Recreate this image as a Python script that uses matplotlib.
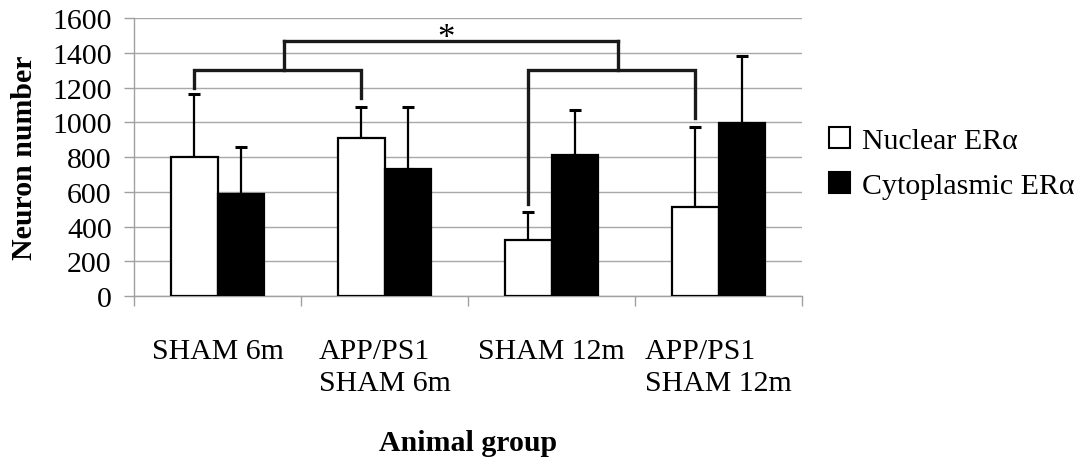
import matplotlib
matplotlib.use("Agg")
import matplotlib.pyplot as plt
import numpy as np
from matplotlib.patches import Patch

categories = ["SHAM 6m", "APP/PS1\nSHAM 6m", "SHAM 12m", "APP/PS1\nSHAM 12m"]
series_names = ["Nuclear ER\u03b1", "Cytoplasmic ER\u03b1"]
nuclear = [800, 910, 325, 510]
nuclear_err = [360, 180, 160, 465]
cyto = [590, 730, 810, 995]
cyto_err = [270, 360, 260, 385]
yticks = [0, 200, 400, 600, 800, 1000, 1200, 1400, 1600]

# brackets: (left group, right group, height, left leg bottom, right leg bottom)
bracket_pairs = [(0, 1, 1300, 1200, 1140), (2, 3, 1300, 530, 1025)]
top_bracket_height = 1465
star_height = 1385

plt.rcParams['font.family'] = ['Liberation Serif', 'DejaVu Serif']
FS = 21.5

fig = plt.figure(figsize=(10.8, 4.6), dpi=100)
ax = fig.add_axes([0.1241, 0.3543, 0.6185, 0.6044])

x = np.arange(len(categories))
w = 0.28
ax.bar(x - w/2, nuclear, w, color='white', edgecolor='black', linewidth=1.6, zorder=3)
ax.bar(x + w/2, cyto, w, color='black', edgecolor='black', linewidth=1.6, zorder=3)
ekw = dict(fmt='none', ecolor='black', elinewidth=1.6, capsize=4.5, capthick=2.2, zorder=2)
ax.errorbar(x - w/2, nuclear, yerr=[np.zeros(4), nuclear_err], **ekw)
ax.errorbar(x + w/2, cyto, yerr=[np.zeros(4), cyto_err], **ekw)

ax.set_xlim(-0.5, 3.5)
ax.set_ylim(0, 1600)
ax.set_yticks(yticks)
ax.set_yticklabels([str(v) for v in yticks], fontsize=FS)
ax.yaxis.grid(True, color='#a8a8a8', linewidth=1.0, zorder=0)
ax.set_axisbelow(True)
for s in ['top', 'right']:
    ax.spines[s].set_visible(False)
for s in ['left', 'bottom']:
    ax.spines[s].set_color('#a0a0a0')
    ax.spines[s].set_linewidth(1.0)
ax.tick_params(axis='y', length=7, color='#a0a0a0', pad=9, width=1.0)

ax.set_xticks(np.arange(-0.5, 4.0, 1.0))
ax.set_xticklabels([])
ax.tick_params(axis='x', which='major', length=7, color='#a0a0a0', width=1.0)
ax.set_xticks(x, minor=True)
ax.set_xticklabels(categories, minor=True, fontsize=FS, multialignment='left', linespacing=1.3)
ax.tick_params(axis='x', which='minor', length=0, pad=30)

ax.set_ylabel("Neuron number", fontsize=FS, fontweight='bold', labelpad=10)
ax.set_xlabel("Animal group", fontsize=FS, fontweight='bold', labelpad=24)

# significance brackets
lc = '#1a1a1a'
lw = 2.4
stems = []
for g1, g2, h, b1, b2 in bracket_pairs:
    x1 = x[g1] - w/2
    x2 = x[g2] - w/2
    ax.plot([x1, x1, x2, x2], [b1, h, h, b2], color=lc, lw=lw, solid_joinstyle='miter', zorder=4, clip_on=False)
    xs = (x1 + x2) / 2 + 0.04
    stems.append(xs)
    ax.plot([xs, xs], [h, top_bracket_height], color=lc, lw=lw, zorder=4, clip_on=False)
ax.plot([stems[0], stems[1]], [top_bracket_height, top_bracket_height], color=lc, lw=lw,
        solid_capstyle='projecting', zorder=4, clip_on=False)
ax.text((stems[0] + stems[1]) / 2 - 0.03, star_height, "*", fontsize=25, ha='center', va='bottom', zorder=5)

handles = [Patch(facecolor='white', edgecolor='black', linewidth=1.5),
           Patch(facecolor='black', edgecolor='black', linewidth=1.5)]
leg = fig.legend(handles, series_names, loc='center left', bbox_to_anchor=(0.768, 0.643),
                 frameon=False, fontsize=FS, handlelength=0.7, handleheight=0.7,
                 handletextpad=0.4, labelspacing=0.6, borderaxespad=0, borderpad=0)

fig.savefig("out.png", dpi=100)
